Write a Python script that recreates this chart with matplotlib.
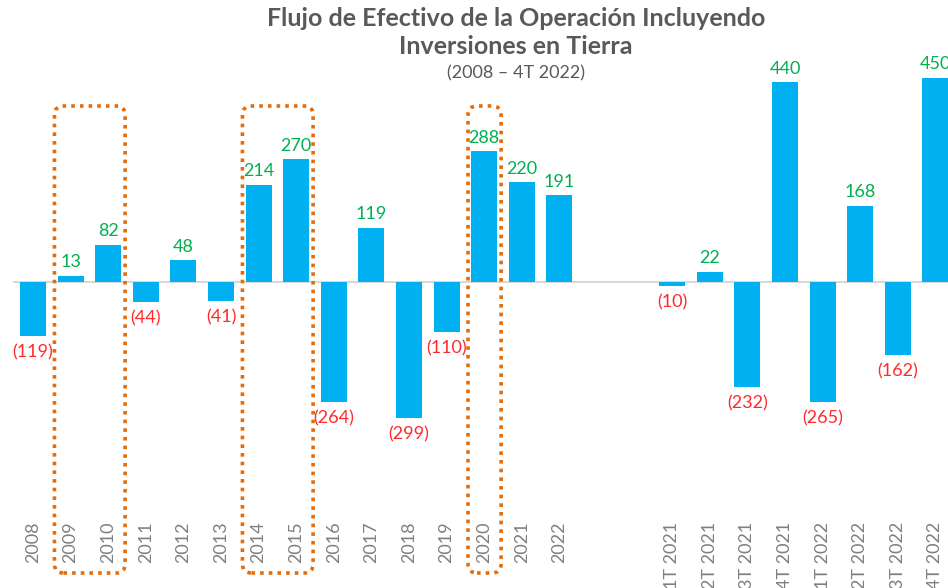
import numpy as np
import matplotlib
matplotlib.use("Agg")
import matplotlib.pyplot as plt
from matplotlib.patches import FancyBboxPatch
from matplotlib.transforms import IdentityTransform

plt.rcParams['font.family'] = ['Lato', 'DejaVu Sans']

# annual values 2008-2022
years = ['2008', '2009', '2010', '2011', '2012', '2013', '2014', '2015',
         '2016', '2017', '2018', '2019', '2020', '2021', '2022']
annual = [-119, 13, 82, -44, 48, -41, 214, 270, -264, 119, -299, -110, 288, 220, 191]

# quarterly values 1T 2021 - 4T 2022
quarters = ['1T 2021', '2T 2021', '3T 2021', '4T 2021',
            '1T 2022', '2T 2022', '3T 2022', '4T 2022']
quarterly = [-10, 22, -232, 440, -265, 168, -162, 450]

# highlighted years (dotted boxes)
highlights = [('2009', '2010'), ('2014', '2015'), ('2020', '2020')]

bar_color = '#00B0F0'
pos_color = '#00B050'
neg_color = '#FF2A2A'
gray = '#595959'

labels = years + quarters
values = annual + quarterly
x = list(range(len(years))) + [len(years) + 2 + i for i in range(len(quarters))]

W, H = 948, 588
fig = plt.figure(figsize=(W / 100, H / 100), dpi=100)
ax = fig.add_axes([0, (H - 512) / H, 1, (512 - 60) / H])

ax.bar(x, values, width=0.69, color=bar_color, zorder=2)
ax.axhline(0, xmin=14 / W, xmax=1, color='#d9d9d9', lw=1.5, zorder=1)

for xi, v in zip(x, values):
    if v >= 0:
        ax.annotate(f'{v}', (xi, v), xytext=(0, 4), textcoords='offset points',
                    ha='center', va='bottom', color=pos_color, fontsize=13)
    else:
        ax.annotate(f'({-v})', (xi, v), xytext=(0, -6), textcoords='offset points',
                    ha='center', va='top', color=neg_color, fontsize=13)

ax.set_xlim(-33 / 37.6, (W - 33) / 37.6)
ax.set_ylim(-507, 489)
ax.set_xticks(x)
ax.set_xticklabels(labels, rotation=90, fontsize=13, color='#7f7f7f')
ax.tick_params(axis='x', length=0, pad=7)
ax.set_yticks([])
for s in ax.spines.values():
    s.set_visible(False)

fig.text(0.544, 1 - 19 / H, 'Flujo de Efectivo de la Operación Incluyendo',
         ha='center', va='center', fontsize=18, fontweight='bold', color=gray)
fig.text(0.544, 1 - 47 / H, 'Inversiones en Tierra',
         ha='center', va='center', fontsize=18, fontweight='bold', color=gray)
fig.text(0.544, 1 - 73 / H, '(2008 – 4T 2022)',
         ha='center', va='center', fontsize=13, color=gray)

# dotted rounded boxes around highlighted years (pixel space)
fig.canvas.draw()
for a, b in highlights:
    x0 = ax.transData.transform((years.index(a) - 0.43, 0))[0]
    x1 = ax.transData.transform((years.index(b) + 0.45, 0))[0]
    y0, y1 = 15, H - 106
    box = FancyBboxPatch((x0, y0), x1 - x0, y1 - y0,
                         boxstyle='round,pad=0,rounding_size=9',
                         transform=IdentityTransform(), fill=False,
                         edgecolor='#E46C0A', lw=2.6, linestyle=(0, (1, 1.4)),
                         clip_on=False, zorder=3)
    fig.add_artist(box)

fig.savefig('out.png', dpi=100)
